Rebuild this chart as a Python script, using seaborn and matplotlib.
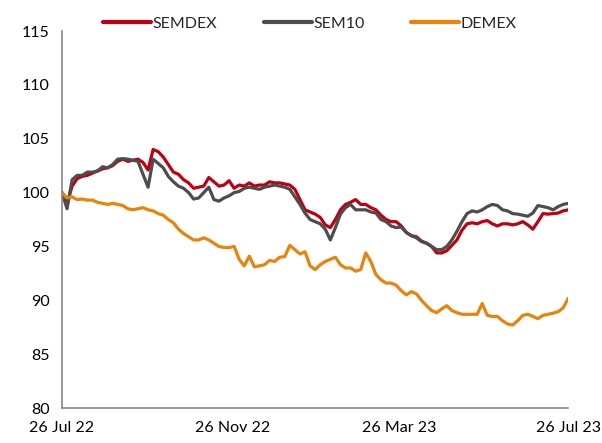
import pandas as pd
import seaborn as sns
import matplotlib.pyplot as plt

# Valores (101 puntos entre 26 Jul 22 y 26 Jul 23)
fecha_inicio = '2022-07-26'
fecha_fin = '2023-07-26'

semdex = [100.0, 99.0, 100.6, 101.3, 101.5, 101.6, 101.8, 102.0, 102.2, 102.3,
          102.5, 102.9, 103.1, 102.9, 103.0, 103.1, 102.8, 102.1, 104.0, 103.8,
          103.3, 102.6, 101.9, 101.7, 101.2, 100.9, 100.4, 100.5, 100.6, 101.4,
          101.0, 100.6, 100.7, 101.1, 100.4, 100.7, 100.6, 100.9, 100.6, 100.7,
          100.7, 101.0, 100.9, 100.9, 100.8, 100.7, 100.3, 99.35, 98.4, 98.2,
          98.0, 97.7, 97.0, 96.75, 97.5, 98.4, 98.9, 99.1, 99.35, 98.9,
          98.9, 98.6, 98.4, 97.9, 97.5, 97.3, 97.3, 96.9, 96.3, 96.0,
          95.9, 95.5, 95.3, 95.0, 94.4, 94.4, 94.6, 95.1, 95.6, 96.5,
          97.1, 97.2, 97.1, 97.3, 97.4, 97.1, 96.9, 97.1, 97.1, 97.0,
          97.1, 97.3, 97.0, 96.6, 97.3, 98.05, 98.0, 98.05, 98.1, 98.3,
          98.4]

sem10 = [100.0, 98.5, 101.2, 101.6, 101.6, 101.9, 101.9, 102.0, 102.4, 102.3,
         102.6, 103.1, 103.15, 103.1, 103.0, 102.9, 101.7, 100.5, 103.1, 102.7,
         102.3, 101.5, 101.0, 100.6, 100.4, 100.0, 99.4, 99.5, 100.0, 100.5,
         99.35, 99.2, 99.5, 99.7, 100.0, 100.1, 100.4, 100.5, 100.4, 100.3,
         100.5, 100.6, 100.7, 100.6, 100.5, 100.3, 99.6, 98.9, 98.1, 97.5,
         97.3, 97.1, 96.6, 95.6, 96.75, 98.0, 98.6, 98.9, 98.4, 98.4,
         98.4, 98.2, 98.1, 97.5, 97.3, 96.9, 96.75, 96.8, 96.3, 96.0,
         95.8, 95.45, 95.3, 95.0, 94.7, 94.7, 95.0, 95.6, 96.4, 97.3,
         98.05, 98.3, 98.2, 98.4, 98.7, 98.9, 98.8, 98.4, 98.3, 98.05,
         98.0, 97.9, 97.8, 98.1, 98.8, 98.7, 98.6, 98.4, 98.7, 98.9,
         99.0]

demex = [100.0, 99.5, 99.6, 99.35, 99.4, 99.3, 99.3, 99.1, 99.0, 98.9,
         99.0, 98.9, 98.8, 98.5, 98.4, 98.5, 98.6, 98.4, 98.3, 98.05,
         97.9, 97.5, 97.2, 96.6, 96.2, 95.9, 95.6, 95.6, 95.8, 95.6,
         95.3, 95.0, 94.9, 94.9, 95.0, 93.8, 93.2, 94.1, 93.1, 93.2,
         93.3, 93.7, 93.6, 94.0, 94.05, 95.1, 94.7, 94.3, 94.5, 93.2,
         92.85, 93.3, 93.6, 93.8, 94.0, 93.3, 93.0, 93.0, 92.7, 92.85,
         94.4, 93.6, 92.4, 91.9, 91.6, 91.6, 91.4, 90.9, 90.5, 90.8,
         90.6, 90.0, 89.5, 89.05, 88.85, 89.2, 89.5, 89.05, 88.85, 88.7,
         88.7, 88.7, 88.7, 89.7, 88.6, 88.5, 88.5, 88.1, 87.8, 87.7,
         88.1, 88.6, 88.7, 88.5, 88.3, 88.6, 88.7, 88.8, 88.95, 89.3,
         90.2]

series = ['SEMDEX', 'SEM10', 'DEMEX']
colores = ['#C00010', '#4D4D4D', '#E8830C']

ticks_fechas = ['2022-07-26', '2022-11-26', '2023-03-26', '2023-07-26']
ticks_etiquetas = ['26 Jul 22', '26 Nov 22', '26 Mar 23', '26 Jul 23']

fechas = pd.date_range(fecha_inicio, fecha_fin, periods=len(semdex))
df = pd.DataFrame({'Fecha': fechas, 'SEMDEX': semdex, 'SEM10': sem10, 'DEMEX': demex})
df = df.melt(id_vars='Fecha', var_name='Indice', value_name='Valor')

sns.set_style('white')
plt.rcParams['font.family'] = ['Lato', 'DejaVu Sans']

fig = plt.figure(figsize=(6.02, 4.43), dpi=100)
ax = fig.add_axes([0.103, 0.079, 0.841, 0.851])

sns.lineplot(data=df, x='Fecha', y='Valor', hue='Indice', hue_order=series,
             palette=colores, linewidth=2.3, ax=ax, legend=False)

ax.set_ylim(80, 115)
ax.set_yticks(range(80, 116, 5))
ax.set_xlim(pd.Timestamp(fecha_inicio), pd.Timestamp(fecha_fin))
ax.set_xticks(pd.to_datetime(ticks_fechas))
ax.set_xticklabels(ticks_etiquetas)
ax.set_xlabel('')
ax.set_ylabel('')

for lado in ['top', 'right']:
    ax.spines[lado].set_visible(False)
for lado in ['left', 'bottom']:
    ax.spines[lado].set_color('#868686')
    ax.spines[lado].set_linewidth(1.2)
ax.tick_params(axis='both', which='major', direction='out', length=5, width=1.2,
               color='#868686', labelsize=11.5, labelcolor='black', pad=4)

handles = [plt.Line2D([], [], color=c, linewidth=3) for c in colores]
fig.legend(handles, series, loc='upper center', bbox_to_anchor=(0.515, 0.995), ncol=3,
           frameon=False, fontsize=11.5, handlelength=3.0, handletextpad=0.1,
           columnspacing=2.9)

fig.savefig('out.png', dpi=100)
